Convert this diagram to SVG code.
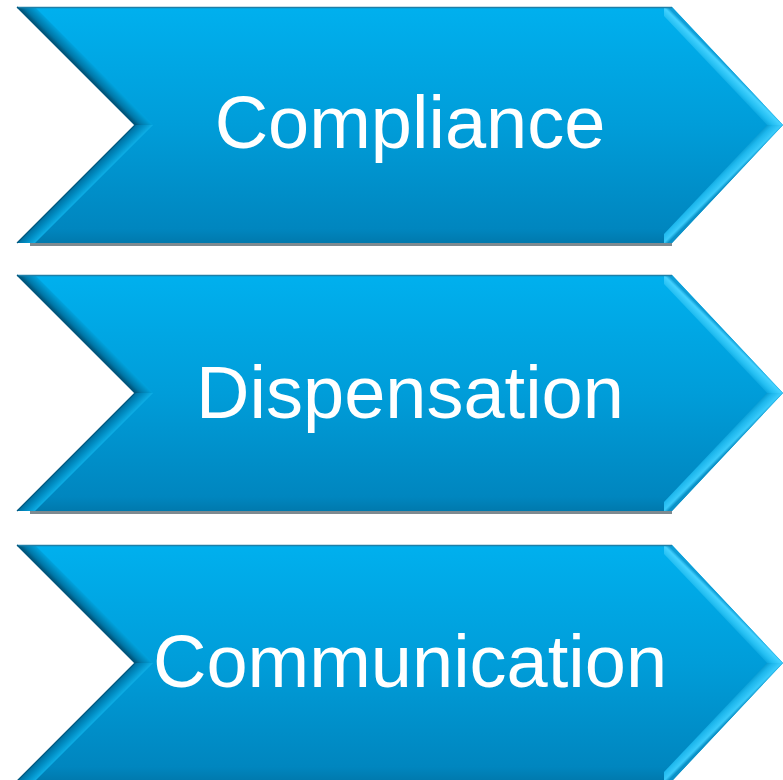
<svg xmlns="http://www.w3.org/2000/svg" xmlns:xlink="http://www.w3.org/1999/xlink" width="783" height="780" viewBox="0 0 783 780">
  <defs>
    <linearGradient id="body" x1="0" y1="0" x2="0" y2="236" gradientUnits="userSpaceOnUse">
      <stop offset="0" stop-color="#00B0EE"/>
      <stop offset="0.5" stop-color="#009DD9"/>
      <stop offset="0.94" stop-color="#0086BF"/>
      <stop offset="1" stop-color="#0079AD"/>
    </linearGradient>
    <linearGradient id="bandUL" x1="76" y1="59" x2="89" y2="46" gradientUnits="userSpaceOnUse">
      <stop offset="0" stop-color="#004E72"/>
      <stop offset="0.25" stop-color="#0078A8"/>
      <stop offset="0.75" stop-color="#00A8E4"/>
      <stop offset="1" stop-color="#2CC8FA"/>
    </linearGradient>
    <linearGradient id="bandLL" x1="76" y1="177" x2="89" y2="190" gradientUnits="userSpaceOnUse">
      <stop offset="0" stop-color="#006E9E"/>
      <stop offset="0.3" stop-color="#008AC0"/>
      <stop offset="0.75" stop-color="#10B4EC"/>
      <stop offset="1" stop-color="#3CCCFB"/>
    </linearGradient>
    <linearGradient id="bandUR" x1="727" y1="59" x2="716" y2="70" gradientUnits="userSpaceOnUse">
      <stop offset="0" stop-color="#0E9FD8"/>
      <stop offset="0.2" stop-color="#44D2FF"/>
      <stop offset="0.6" stop-color="#22BEF2"/>
      <stop offset="1" stop-color="#0099D4"/>
    </linearGradient>
    <linearGradient id="bandLR" x1="727" y1="177" x2="716" y2="166" gradientUnits="userSpaceOnUse">
      <stop offset="0" stop-color="#0A92C8"/>
      <stop offset="0.2" stop-color="#3ACBFB"/>
      <stop offset="0.6" stop-color="#1CB6EC"/>
      <stop offset="1" stop-color="#008DC4"/>
    </linearGradient>
    <g id="chev">
      <rect x="30" y="236" width="642" height="3" fill="#7E8A90"/>
      <polygon points="17,0 672,0 783,118 672,236 17,236 135,118" fill="url(#body)"/>
      <polygon points="17,0 135,118 153,118 35,0" fill="url(#bandUL)"/>
      <polygon points="135,118 17,236 35,236 153,118" fill="url(#bandLL)"/>
      <polygon points="672,0 783,118 767,118 664,9 664,0" fill="url(#bandUR)"/>
      <polygon points="783,118 672,236 664,236 664,227 767,118" fill="url(#bandLR)"/>
      <line x1="17" y1="0.5" x2="672" y2="0.5" stroke="#1E7FA8" stroke-width="1.5"/>
      <polyline points="17,0 135,118 17,236" fill="none" stroke="#00577E" stroke-width="1.2"/>
    </g>
    <style>
      .lbl { font-family: "Liberation Sans", Arial, sans-serif; font-size: 74px; fill: #FFFFFF; text-anchor: middle; }
    </style>
  </defs>
  <g id="node-compliance" transform="translate(0,7)">
    <use xlink:href="#chev"/>
    <text class="lbl" x="410" y="141">Compliance</text>
  </g>
  <g id="node-dispensation" transform="translate(0,275)">
    <use xlink:href="#chev"/>
    <text class="lbl" x="410" y="143">Dispensation</text>
  </g>
  <g id="node-communication" transform="translate(0,545)">
    <use xlink:href="#chev"/>
    <text class="lbl" x="410" y="142">Communication</text>
  </g>
  <g id="connectors"/>
</svg>
